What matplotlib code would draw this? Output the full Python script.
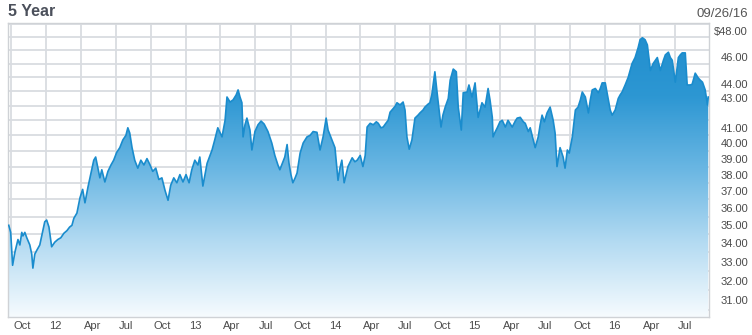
import numpy as np
import pandas as pd
import matplotlib
matplotlib.use("Agg")
import matplotlib.pyplot as plt
from matplotlib.colors import LinearSegmentedColormap
from matplotlib.ticker import FixedLocator, NullFormatter, FuncFormatter
from matplotlib.transforms import ScaledTranslation

plt.rcParams["font.family"] = ["Liberation Sans", "DejaVu Sans"]

# ===== DATA =====
dates = [
    "2011-09-26", "2011-10-01", "2011-10-06", "2011-10-12", "2011-10-20", "2011-10-25",
    "2011-10-30", "2011-11-02", "2011-11-07", "2011-11-12", "2011-11-20", "2011-11-25",
    "2011-11-28", "2011-12-03", "2011-12-08", "2011-12-16", "2011-12-24", "2011-12-29",
    "2012-01-03", "2012-01-09", "2012-01-16", "2012-01-24", "2012-02-01", "2012-02-09",
    "2012-02-17", "2012-02-25", "2012-03-03", "2012-03-09", "2012-03-14", "2012-03-22",
    "2012-03-30", "2012-04-06", "2012-04-12", "2012-04-20", "2012-04-27", "2012-05-05",
    "2012-05-10", "2012-05-16", "2012-05-21", "2012-05-26", "2012-06-03", "2012-06-11",
    "2012-06-19", "2012-06-26", "2012-07-04", "2012-07-12", "2012-07-20", "2012-07-28",
    "2012-08-02", "2012-08-07", "2012-08-13", "2012-08-20", "2012-08-28", "2012-09-05",
    "2012-09-13", "2012-09-21", "2012-09-29", "2012-10-06", "2012-10-14", "2012-10-22",
    "2012-10-30", "2012-11-07", "2012-11-15", "2012-11-22", "2012-11-30", "2012-12-08",
    "2012-12-16", "2012-12-24", "2013-01-01", "2013-01-09", "2013-01-16", "2013-01-24",
    "2013-02-01", "2013-02-06", "2013-02-14", "2013-02-25", "2013-03-10", "2013-03-17",
    "2013-03-25", "2013-04-05", "2013-04-13", "2013-04-18", "2013-04-26", "2013-05-04",
    "2013-05-12", "2013-05-17", "2013-05-22", "2013-05-27", "2013-05-30", "2013-06-04",
    "2013-06-09", "2013-06-17", "2013-06-22", "2013-06-30", "2013-07-08", "2013-07-16",
    "2013-07-24", "2013-08-03", "2013-08-13", "2013-08-21", "2013-08-29", "2013-09-03",
    "2013-09-11", "2013-09-16", "2013-09-22", "2013-09-27", "2013-10-02", "2013-10-07",
    "2013-10-13", "2013-10-18", "2013-10-26", "2013-11-03", "2013-11-13", "2013-11-21",
    "2013-11-29", "2013-12-09", "2013-12-17", "2013-12-25", "2014-01-02", "2014-01-07",
    "2014-01-17", "2014-01-25", "2014-02-02", "2014-02-07", "2014-02-12", "2014-02-18",
    "2014-02-23", "2014-02-28", "2014-03-11", "2014-03-18", "2014-03-24", "2014-04-01",
    "2014-04-08", "2014-04-14", "2014-04-19", "2014-04-27", "2014-05-05", "2014-05-13",
    "2014-05-18", "2014-05-25", "2014-05-31", "2014-06-07", "2014-06-13", "2014-06-18",
    "2014-06-23", "2014-07-01", "2014-07-06", "2014-07-14", "2014-07-22", "2014-07-27",
    "2014-08-01", "2014-08-07", "2014-08-14", "2014-08-22", "2014-08-30", "2014-09-04",
    "2014-09-12", "2014-09-17", "2014-09-25", "2014-09-30", "2014-10-05", "2014-10-13",
    "2014-10-18", "2014-10-24", "2014-10-29", "2014-11-03", "2014-11-09", "2014-11-17",
    "2014-11-22", "2014-11-30", "2014-12-08", "2014-12-13", "2014-12-21", "2014-12-26",
    "2015-01-05", "2015-01-10", "2015-01-18", "2015-01-26", "2015-02-03", "2015-02-13",
    "2015-02-21", "2015-03-01", "2015-03-06", "2015-03-12", "2015-03-14", "2015-03-19",
    "2015-03-25", "2015-04-01", "2015-04-07", "2015-04-15", "2015-04-22", "2015-05-03",
    "2015-05-11", "2015-05-16", "2015-05-24", "2015-06-01", "2015-06-06", "2015-06-14",
    "2015-06-19", "2015-06-24", "2015-07-02", "2015-07-10", "2015-07-15", "2015-07-20",
    "2015-07-26", "2015-08-02", "2015-08-10", "2015-08-18", "2015-08-23", "2015-08-28",
    "2015-09-05", "2015-09-13", "2015-09-18", "2015-09-24", "2015-09-29", "2015-10-07",
    "2015-10-15", "2015-10-22", "2015-10-28", "2015-11-02", "2015-11-10", "2015-11-18",
    "2015-11-23", "2015-11-28", "2015-12-06", "2015-12-14", "2015-12-19", "2015-12-24",
    "2016-01-01", "2016-01-09", "2016-01-14", "2016-01-19", "2016-01-27", "2016-02-04",
    "2016-02-09", "2016-02-14", "2016-02-22", "2016-03-01", "2016-03-06", "2016-03-11",
    "2016-03-19", "2016-03-27", "2016-04-01", "2016-04-07", "2016-04-14", "2016-04-20",
    "2016-04-28", "2016-05-05", "2016-05-11", "2016-05-16", "2016-05-24", "2016-06-01",
    "2016-06-06", "2016-06-14", "2016-06-19", "2016-06-24", "2016-07-02", "2016-07-10",
    "2016-07-15", "2016-07-20", "2016-07-28", "2016-08-02", "2016-08-10", "2016-08-15",
    "2016-08-23", "2016-08-31", "2016-09-05", "2016-09-11", "2016-09-18", "2016-09-24",
    "2016-09-26",
]
prices = [
    35.0, 34.6, 32.8, 33.5, 34.2, 33.9,
    34.6, 34.4, 34.6, 34.3, 33.9, 33.4,
    32.65, 33.4, 33.6, 33.9, 34.7, 35.2,
    35.3, 34.9, 33.8, 34.05, 34.2, 34.3,
    34.55, 34.7, 34.9, 35.0, 35.4, 35.7,
    36.6, 37.1, 36.3, 37.25, 38.0, 38.9,
    39.1, 38.4, 37.8, 38.3, 37.55, 38.2,
    38.6, 38.9, 39.4, 39.7, 40.2, 40.5,
    41.0, 40.65, 39.7, 38.9, 38.4, 38.9,
    38.6, 39.0, 38.6, 38.2, 38.4, 37.7,
    37.8, 37.05, 36.45, 37.35, 37.8, 37.5,
    38.0, 37.55, 38.0, 37.5, 38.3, 38.9,
    38.6, 39.1, 37.3, 38.7, 39.55, 40.2,
    41.0, 40.4, 41.5, 43.1, 42.75, 42.9,
    43.25, 43.6, 43.1, 42.7, 40.4, 41.2,
    41.65, 40.85, 39.55, 40.75, 41.2, 41.45,
    41.25, 40.75, 40.0, 39.2, 38.6, 38.3,
    38.8, 39.1, 39.9, 38.7, 38.0, 37.5,
    37.8, 38.1, 39.35, 40.0, 40.4, 40.5,
    40.75, 40.7, 39.55, 40.4, 41.65, 40.85,
    40.2, 39.7, 37.65, 38.4, 38.9, 37.5,
    38.0, 38.5, 39.05, 38.8, 38.9, 39.2,
    38.5, 39.2, 41.05, 41.3, 41.2, 41.4,
    41.3, 41.0, 41.05, 41.3, 41.5, 42.05,
    42.2, 42.45, 42.7, 42.55, 42.75, 42.2,
    40.4, 39.6, 40.2, 41.65, 41.85, 42.0,
    42.2, 42.4, 42.6, 42.7, 43.25, 44.9,
    43.6, 42.2, 41.05, 41.85, 42.4, 43.0,
    44.3, 45.1, 44.9, 42.4, 40.85, 43.4,
    43.45, 43.95, 43.1, 44.1, 41.7, 42.7,
    42.4, 43.7, 42.9, 41.7, 40.4, 40.7,
    41.0, 41.4, 41.5, 41.05, 41.5, 41.05,
    41.45, 41.65, 41.7, 41.4, 41.3, 40.75,
    41.0, 40.5, 39.7, 40.4, 41.2, 41.85,
    41.4, 42.0, 42.4, 41.5, 40.65, 38.5,
    39.7, 39.1, 38.4, 39.55, 39.35, 40.4,
    42.2, 42.4, 42.9, 43.45, 43.1, 42.0,
    42.9, 43.6, 43.7, 43.4, 43.7, 44.1,
    44.1, 42.9, 42.2, 41.85, 42.2, 43.0,
    43.25, 43.45, 43.95, 44.5, 45.0, 45.5,
    45.95, 46.7, 47.3, 47.45, 47.3, 46.9,
    45.0, 45.5, 45.75, 45.95, 45.0, 45.75,
    46.15, 46.35, 45.95, 45.75, 44.15, 45.95,
    46.15, 46.3, 46.3, 43.95, 43.95, 44.0,
    44.8, 44.45, 44.3, 44.15, 43.6, 42.55,
    43.1,
]

quarter_starts = [
    "2011-10-01", "2012-01-01", "2012-04-01", "2012-07-01", "2012-10-01",
    "2013-01-01", "2013-04-01", "2013-07-01", "2013-10-01", "2014-01-01",
    "2014-04-01", "2014-07-01", "2014-10-01", "2015-01-01", "2015-04-01",
    "2015-07-01", "2015-10-01", "2016-01-01", "2016-04-01", "2016-07-01",
]
quarter_labels = [
    "Oct", "12", "Apr", "Jul", "Oct", "13", "Apr", "Jul", "Oct", "14",
    "Apr", "Jul", "Oct", "15", "Apr", "Jul", "Oct", "16", "Apr", "Jul",
]
price_ticks = [31, 32, 33, 34, 35, 36, 37, 38, 39, 40, 41, 43, 44, 46, 48]

# ===== SETTINGS =====
y_min, y_max = 30.16, 48.6
grid_color = "#d9dce1"
line_color = "#1a8ccd"
text_color = "#4a4a4a"

x = pd.to_datetime(dates)

fig = plt.figure(figsize=(7.52, 3.35), dpi=100)
ax = fig.add_axes([8 / 752, 18 / 335, 701 / 752, 294 / 335])
ax.set_yscale("log")

# gradient fill under the line
poly = ax.fill_between(x, prices, y_min, color="none", lw=0)
fade = LinearSegmentedColormap.from_list(
    "fade", ["#f6fbfe", "#b4dbf2", "#6bb7e3", "#2d97d3", "#1f8dcd"]
)
grad = np.linspace(0, 1, 256).reshape(-1, 1)
img = ax.imshow(grad, cmap=fade, extent=[0, 1, 0, 1], transform=ax.transAxes,
                origin="lower", aspect="auto", zorder=2, interpolation="bilinear")
img.set_clip_path(poly.get_paths()[0], transform=ax.transData)

ax.plot(x, prices, color=line_color, lw=1.2, zorder=3)

ax.set_xlim(pd.Timestamp("2011-09-24"), pd.Timestamp("2016-09-28"))
ax.set_ylim(y_min, y_max)

# ===== AXES =====
ax.yaxis.tick_right()
ax.yaxis.set_major_locator(FixedLocator(price_ticks))
ax.yaxis.set_major_formatter(FuncFormatter(
    lambda v, pos: f"${v:.2f}" if v == max(price_ticks) else f"{v:.2f}"))
ax.yaxis.set_minor_locator(FixedLocator(np.arange(30.5, 48.6, 1.0)))
ax.yaxis.set_minor_formatter(NullFormatter())
ax.tick_params(axis="y", which="both", length=0, pad=28, labelsize=8,
               labelcolor=text_color)
for lbl in ax.get_yticklabels():
    lbl.set_horizontalalignment("right")

ax.set_xticks(pd.to_datetime(quarter_starts))
ax.set_xticklabels(quarter_labels)
ax.tick_params(axis="x", length=0, pad=3, labelsize=8, labelcolor=text_color)
shift = ScaledTranslation(3 / 100, 0, fig.dpi_scale_trans)
for lbl in ax.get_xticklabels():
    lbl.set_horizontalalignment("left")
    lbl.set_transform(lbl.get_transform() + shift)

ax.grid(which="minor", axis="y", color=grid_color, lw=1.3, zorder=0)
ax.grid(which="major", axis="x", color=grid_color, lw=1.3, zorder=0)
ax.grid(which="major", axis="y", visible=False)
ax.set_axisbelow(True)

for side in ax.spines.values():
    side.set_color("#cfd2d6")
    side.set_linewidth(1.0)

fig.text(8 / 752, 1 - 12 / 335, "5 Year", fontsize=11.5, fontweight="bold",
         color="#4b505b", va="center", ha="left")
fig.text(748 / 752, 1 - 14 / 335, "09/26/16", fontsize=9.5, color="#555555",
         va="center", ha="right")

plt.savefig("out.png", dpi=100)
plt.close()
